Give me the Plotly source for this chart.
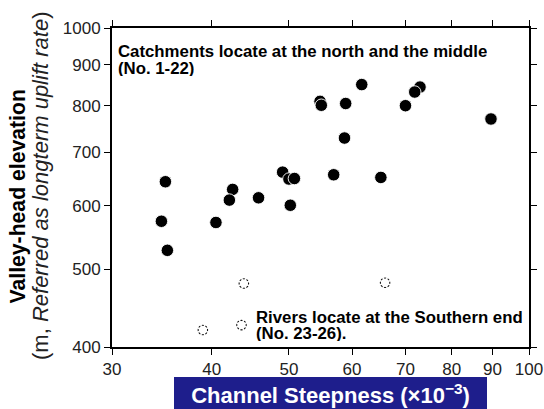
import plotly.graph_objects as go

# Catchments at the north and the middle (No. 1-22)
north_ksn = [35.0, 54.7, 54.9, 49.1, 50.0, 50.8, 42.5, 42.1, 45.8, 50.2, 56.9,
             34.6, 40.5, 35.2, 58.9, 61.7, 73.0, 71.9, 70.0, 89.6, 58.7, 65.2]
north_elev = [643, 810, 801, 661, 648, 649, 629, 610, 614, 601, 656,
              574, 572, 528, 805, 850, 844, 832, 800, 770, 729, 651]

# Rivers at the southern end (No. 23-26)
south_ksn = [43.9, 66.0, 39.0, 43.6]
south_elev = [480, 481, 420, 426]

x_ticks = [30, 40, 50, 60, 70, 80, 90, 100]
y_ticks = [400, 500, 600, 700, 800, 900, 1000]

FONT = "Liberation Sans, Arial, Helvetica, sans-serif"
W, H = 544, 409
ML, MR, MT, MB = 112, 15, 28, 62
PW, PH = W - ML - MR, H - MT - MB


def px_x(p):
    return (p - ML) / PW


def px_y(p):
    return (H - MB - p) / PH


fig = go.Figure()

fig.add_trace(go.Scatter(
    x=north_ksn, y=north_elev, mode="markers",
    marker=dict(size=12.5, color="black",
                line=dict(color="rgba(255,255,255,0.9)", width=1)),
    showlegend=False, name="No. 1-22"))

# dashed open circles: black ring broken by white spokes
fig.add_trace(go.Scatter(
    x=south_ksn, y=south_elev, mode="markers",
    marker=dict(symbol="circle-open", size=9.5, color="#111",
                line=dict(color="#111", width=1.1)),
    showlegend=False, name="No. 23-26"))
fig.add_trace(go.Scatter(
    x=south_ksn, y=south_elev, mode="markers", hoverinfo="skip",
    marker=dict(symbol="asterisk-open", size=13, angle=22.5, color="white",
                line=dict(color="white", width=1.6)),
    showlegend=False))

axis_common = dict(
    type="log", showgrid=False, zeroline=False, automargin=False,
    showline=True, linecolor="black", linewidth=2, mirror="allticks",
    ticks="outside", ticklen=6, tickwidth=1.2, tickcolor="black",
    tickfont=dict(family=FONT, size=17, color="#222"),
)

fig.update_xaxes(range=[1.4771213, 2.0], tickvals=x_ticks,
                 ticktext=[str(v) for v in x_ticks], **axis_common)
fig.update_yaxes(range=[2.60206, 3.0], tickvals=y_ticks,
                 ticktext=[str(v) for v in y_ticks], **axis_common)

ann = []
bold = dict(family=FONT, size=16.8, color="black")


def line_ann(text, x_px, y_px, h):
    return dict(xref="paper", yref="paper", x=px_x(x_px), y=px_y(y_px),
                xanchor="left", yanchor="middle", showarrow=False,
                height=h, valign="middle", borderpad=0,
                text=text, font=bold)


ann.append(line_ann("<b>Catchments locate at the north and the middle</b>", 117, 51, 14))
ann.append(line_ann("<b>(No. 1-22)</b>", 117, 67.5, 16))
ann.append(line_ann("<b>Rivers locate at the Southern end</b>", 255, 317, 14))
ann.append(line_ann("<b>(No. 23-26).</b>", 255, 332.5, 16))

# Y-axis titles (two lines)
ann.append(dict(xref="paper", yref="paper", x=px_x(17.5), y=px_y(197),
                xanchor="center", yanchor="middle", showarrow=False, textangle=-90,
                text="<b>Valley-head elevation</b>",
                font=dict(family=FONT, size=21.2, color="black")))
ann.append(dict(xref="paper", yref="paper", x=px_x(40), y=px_y(186),
                xanchor="center", yanchor="middle", showarrow=False, textangle=-90,
                text="(m, <i>Referred as longterm uplift rate</i>)",
                font=dict(family=FONT, size=22, color="#222")))

# X-axis title in a navy box
ann.append(dict(xref="paper", yref="paper", x=px_x(330), y=px_y(377.3),
                xanchor="center", yanchor="top", showarrow=False,
                width=313, height=34, borderpad=0, borderwidth=0,
                bgcolor="#1e1e8c", valign="middle",
                text="<b>Channel Steepness (×10<sup>−3</sup>)</b>",
                font=dict(family=FONT, size=22, color="white")))

fig.update_layout(
    width=W, height=H,
    margin=dict(l=ML, r=MR, t=MT, b=MB, autoexpand=False),
    paper_bgcolor="white", plot_bgcolor="white",
    annotations=ann,
    showlegend=False,
)

fig.write_html("out.html")
